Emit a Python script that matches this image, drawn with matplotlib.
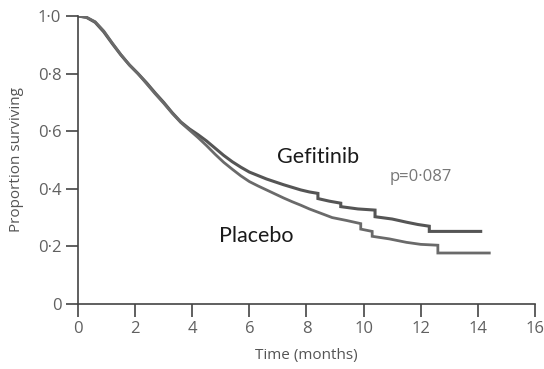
import matplotlib
matplotlib.use("Agg")
import matplotlib.pyplot as plt

# survival (months, proportion)
gefitinib_t = [0, 0.3, 0.6, 0.9, 1.2, 1.5, 1.8, 2.1, 2.4, 2.7, 3.0, 3.3, 3.6, 3.9, 4.2,
               4.5, 4.8, 5.1, 5.4, 5.7, 6.0, 6.3, 6.6, 6.9, 7.2, 7.5, 7.8, 8.1, 8.4, 8.4,
               8.8, 9.2, 9.2, 9.8, 10.4, 10.4, 11.0, 11.5, 11.9, 12.3, 12.3, 14.1]
gefitinib_s = [1.0, 0.995, 0.978, 0.945, 0.904, 0.865, 0.830, 0.800, 0.768, 0.733, 0.700, 0.664, 0.632, 0.608, 0.588,
               0.566, 0.541, 0.516, 0.494, 0.475, 0.458, 0.446, 0.434, 0.424, 0.414, 0.405, 0.396, 0.389, 0.384, 0.366,
               0.357, 0.350, 0.338, 0.330, 0.326, 0.303, 0.295, 0.284, 0.276, 0.270, 0.252, 0.252]

placebo_t = [0, 0.3, 0.6, 0.9, 1.2, 1.5, 1.8, 2.1, 2.4, 2.7, 3.0, 3.3, 3.6, 3.9, 4.2,
             4.5, 4.8, 5.1, 5.4, 5.7, 6.0, 6.3, 6.6, 6.9, 7.2, 7.5, 7.8, 8.1, 8.5, 8.9,
             9.4, 9.9, 9.9, 10.3, 10.3, 10.9, 11.5, 12.0, 12.6, 12.6, 14.4]
placebo_s = [1.0, 0.995, 0.980, 0.948, 0.906, 0.866, 0.830, 0.800, 0.765, 0.730, 0.697, 0.662, 0.630, 0.604, 0.578,
             0.550, 0.520, 0.492, 0.468, 0.445, 0.425, 0.410, 0.396, 0.382, 0.368, 0.355, 0.343, 0.330, 0.315, 0.300,
             0.290, 0.279, 0.260, 0.252, 0.235, 0.226, 0.214, 0.207, 0.204, 0.177, 0.177]

x_ticks = [0, 2, 4, 6, 8, 10, 12, 14, 16]
y_ticks = [0, 0.2, 0.4, 0.6, 0.8, 1.0]
y_tick_labels = ["0", "0\u00b72", "0\u00b74", "0\u00b76", "0\u00b78", "1\u00b70"]

fig = plt.figure(figsize=(5.44, 3.69), dpi=100)
ax = fig.add_axes([0.1434, 0.1762, 0.840, 0.7805])

ax.plot(gefitinib_t, gefitinib_s, color="#555555", lw=2.2, solid_joinstyle="miter")
ax.plot(placebo_t, placebo_s, color="#6a6a6a", lw=2.0, solid_joinstyle="miter")

ax.set_xlim(0, 16)
ax.set_ylim(0, 1)
ax.set_xticks(x_ticks)
ax.set_xticklabels([str(v) for v in x_ticks])
ax.set_yticks(y_ticks)
ax.set_yticklabels(y_tick_labels)

for side in ["top", "right"]:
    ax.spines[side].set_visible(False)
for side in ["left", "bottom"]:
    ax.spines[side].set_color("#444444")
    ax.spines[side].set_linewidth(1.2)
ax.tick_params(colors="#444444", labelcolor="#606060", length=9, width=1.2,
               labelsize=12, pad=3)
for lab in ax.get_xticklabels() + ax.get_yticklabels():
    lab.set_family("Open Sans")

ax.set_xlabel("Time (months)", family="Open Sans", fontsize=11, color="#555555", labelpad=8)
ax.set_ylabel("Proportion surviving", family="Open Sans", fontsize=11, color="#555555", labelpad=10)

ax.text(6.95, 0.51, "Gefitinib", family="Lato", fontsize=15.5, color="#1a1a1a", va="center")
ax.text(4.95, 0.236, "Placebo", family="Lato", fontsize=15.5, color="#1a1a1a", va="center")
ax.text(10.9, 0.44, "p=0\u00b7087", family="Open Sans", fontsize=12, color="#777777", va="center")

fig.savefig("out.png", dpi=100)
